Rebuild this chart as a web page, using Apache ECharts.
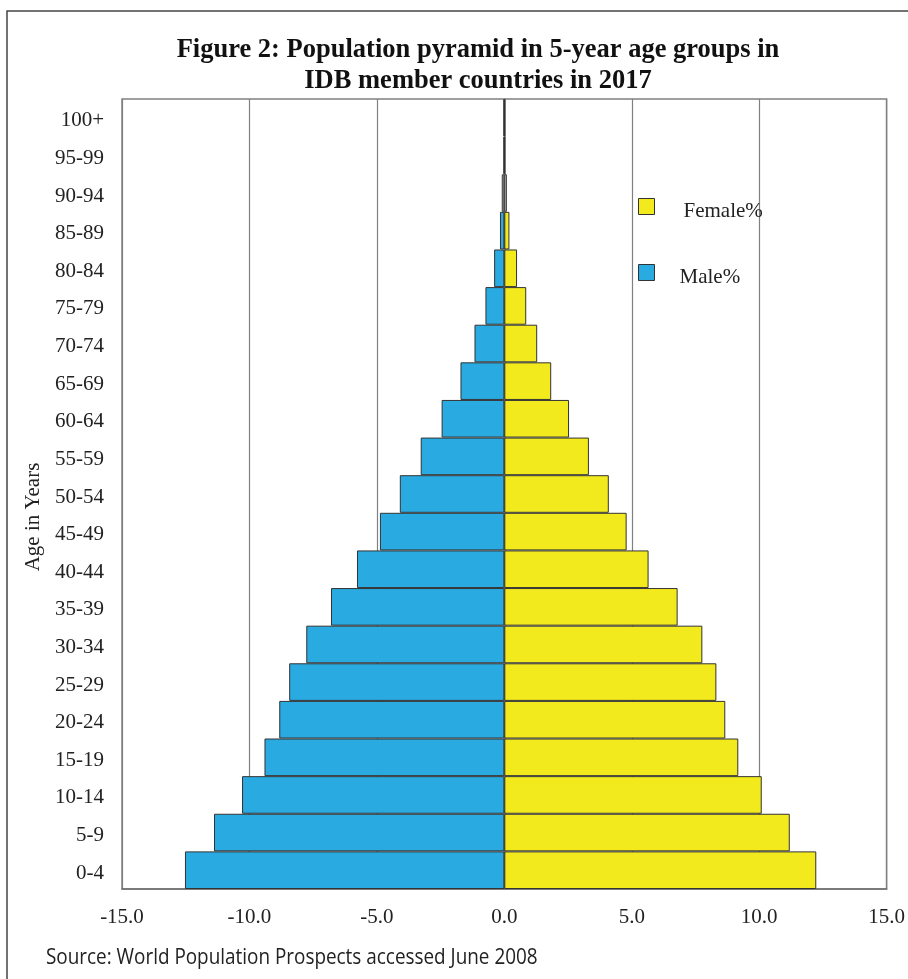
<!DOCTYPE html>
<html>
<head>
<meta charset="utf-8">
<script src="https://cdn.jsdelivr.net/npm/echarts@6/dist/echarts.min.js"></script>
<style>html,body{margin:0;padding:0;background:#fff}#c{width:908px;height:979px}</style>
</head>
<body>
<div id="c"></div>
<script>
var ageGroups = ['0-4','5-9','10-14','15-19','20-24','25-29','30-34','35-39','40-44','45-49','50-54','55-59','60-64','65-69','70-74','75-79','80-84','85-89','90-94','95-99','100+'];
var malePct = [-12.53,-11.39,-10.29,-9.41,-8.83,-8.44,-7.77,-6.80,-5.78,-4.88,-4.10,-3.28,-2.46,-1.72,-1.17,-0.74,-0.40,-0.17,-0.10,-0.03,-0.03];
var femalePct = [12.24,11.20,10.10,9.18,8.67,8.32,7.77,6.80,5.66,4.80,4.10,3.32,2.54,1.84,1.29,0.86,0.50,0.20,0.10,0.03,0.03];
var xTicks = [-15,-10,-5,0,5,10,15];

var serif = '"Liberation Serif","Times New Roman",serif';
function items(vals, col) {
  return vals.map(function (v, i) {
    var c = col;
    if (i >= 18) c = (i === 18) ? '#d9d9d9' : '#555';
    return { value: v, itemStyle: { color: c } };
  });
}
var chart = echarts.init(document.getElementById('c'));
chart.setOption({
  animation: false,
  title: {
    text: 'Figure 2: Population pyramid in 5-year age groups in\nIDB member countries in 2017',
    left: 473, top: 30, textAlign: 'center',
    textStyle: { fontFamily: serif, fontWeight: 'bold', fontSize: 26.5, lineHeight: 31, color: '#111' }
  },
  legend: [
    { data: ['Female%'], left: 638, top: 198, padding: 0, orient: 'vertical', icon: 'rect', itemWidth: 16, itemHeight: 16,
      formatter: function (n) { return '{t|' + n + '}'; },
      textStyle: { fontFamily: serif, fontSize: 21, color: '#222',
        rich: { t: { fontFamily: serif, fontSize: 21, color: '#222', padding: [9, 0, 0, 24] } } },
      itemStyle: { borderColor: '#333', borderWidth: 1 } },
    { data: ['Male%'], left: 638, top: 264, padding: 0, orient: 'vertical', icon: 'rect', itemWidth: 16, itemHeight: 16,
      formatter: function (n) { return '{t|' + n + '}'; },
      textStyle: { fontFamily: serif, fontSize: 21, color: '#222',
        rich: { t: { fontFamily: serif, fontSize: 21, color: '#222', padding: [9, 0, 0, 20] } } },
      itemStyle: { borderColor: '#333', borderWidth: 1 } }
  ],
  grid: { left: 122, right: 18, top: 99, bottom: 90, show: true, borderColor: '#808080', borderWidth: 1.5, containLabel: false },
  xAxis: {
    type: 'value', min: -15, max: 15, interval: 5,
    axisLine: { show: true, lineStyle: { color: '#707070', width: 1.5 } },
    axisTick: { show: false },
    splitLine: { show: true, lineStyle: { color: '#808080', width: 1.2 } },
    axisLabel: { margin: 18, fontFamily: serif, fontSize: 21, color: '#222',
      formatter: function (v) { return xTicks.indexOf(v) >= 0 ? v.toFixed(1) : ''; } }
  },
  yAxis: {
    type: 'category', data: ageGroups,
    axisLine: { show: true, lineStyle: { color: '#808080', width: 1.5 } },
    axisTick: { show: false },
    axisLabel: { margin: 18, fontFamily: serif, fontSize: 21, color: '#222',
      formatter: function (v) { return '{t|' + v + '}'; },
      rich: { t: { fontFamily: serif, fontSize: 21, color: '#222', padding: [6, 0, 0, 0] } } }
  },
  series: [
    { name: 'Female%', type: 'bar', data: items(femalePct, '#f2ea1c'), barGap: '-100%', barCategoryGap: 0,
      itemStyle: { color: '#f2ea1c', borderColor: '#333', borderWidth: 1 } },
    { name: 'Male%', type: 'bar', data: items(malePct, '#29abe2'), barGap: '-100%', barCategoryGap: 0,
      itemStyle: { color: '#29abe2', borderColor: '#333', borderWidth: 1 } }
  ],
  graphic: [
    { type: 'rect', shape: { x: 7, y: 11, width: 960, height: 1000 }, style: { fill: 'none', stroke: '#444', lineWidth: 1.5 }, silent: true },
    { type: 'text', x: 33, y: 517, rotation: Math.PI / 2, style: { text: 'Age in Years', font: '21px "Liberation Serif","Times New Roman",serif',
      fill: '#222', align: 'center', verticalAlign: 'middle' } },
    { type: 'text', x: 46, y: 958, scaleX: 0.9, style: { text: 'Source: World Population Prospects accessed June 2008',
      font: '21px "Open Sans",sans-serif', fill: '#222', verticalAlign: 'middle' } }
  ]
});
</script>
</body>
</html>
